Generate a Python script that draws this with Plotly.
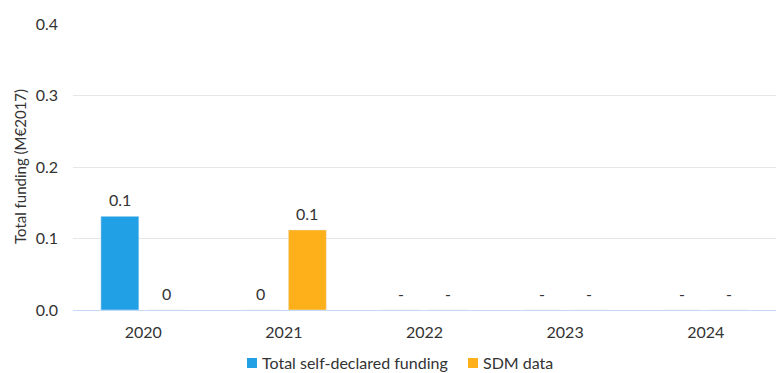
import plotly.graph_objects as go

years = ["2020", "2021", "2022", "2023", "2024"]
self_declared = [0.131, 0, 0, 0, 0]
self_declared_labels = ["0.1", "0", "-", "-", "-"]
sdm = [0, 0.112, 0, 0, 0]
sdm_labels = ["0", "0.1", "-", "-", "-"]
series_names = ["Total self-declared funding", "SDM data"]
series_colors = ["#22A0E6", "#FDB019"]

font_family = "Lato, 'Open Sans', sans-serif"
text_color = "#333333"
FS = 16

W, H = 776, 373
L, R, T, B = 73, 0, 24, 63
PW, PH = W - L - R, H - T - B


def px_x(px):
    return (px - L) / PW


def px_y(py):
    return (H - B - py) / PH


fig = go.Figure()
fig.add_trace(go.Bar(x=years, y=self_declared, name=series_names[0],
                     marker_color=series_colors[0], showlegend=False))
fig.add_trace(go.Bar(x=years, y=sdm, name=series_names[1],
                     marker_color=series_colors[1], showlegend=False))

# data labels, placed over each bar of the group (category index positions)
annotations = []
for labels, vals, shift in [(self_declared_labels, self_declared, -23.5),
                            (sdm_labels, sdm, 23.5)]:
    for i, (v, lab) in enumerate(zip(vals, labels)):
        annotations.append(dict(x=i, y=v, xref="x", yref="y", text=lab,
                                showarrow=False, yanchor="bottom", xshift=shift,
                                yshift=5, font=dict(size=FS, color=text_color)))
annotations.append(dict(x=px_x(20), xref="paper", y=0.5, yref="paper",
                        text="Total funding (M€2017)", textangle=-90, showarrow=False,
                        xanchor="center", yanchor="middle",
                        font=dict(size=15, color=text_color)))

# legend drawn manually (compact spacing like the reference)
shapes = []
legend_items = [(247, series_names[0], series_colors[0]),
                (468, series_names[1], series_colors[1])]
for x0, name, color in legend_items:
    shapes.append(dict(type="rect", xref="paper", yref="paper",
                       x0=px_x(x0), x1=px_x(x0 + 10), y0=px_y(368), y1=px_y(358),
                       fillcolor=color, line=dict(width=0)))
    annotations.append(dict(x=px_x(x0 + 13), y=px_y(362), xref="paper", yref="paper",
                            text=name, showarrow=False, xanchor="left", yanchor="middle",
                            font=dict(size=FS, color=text_color)))

fig.update_layout(
    width=W, height=H,
    margin=dict(l=L, r=R, t=T, b=B, autoexpand=False),
    paper_bgcolor="white", plot_bgcolor="white",
    barmode="group", bargap=0.333, bargroupgap=0.19,
    font=dict(family=font_family, size=FS, color=text_color),
    showlegend=False,
    xaxis=dict(type="category", range=[-0.5, 4.5], showgrid=False, showline=True,
               linecolor="#C5DAF6", linewidth=1, ticks="", tickfont=dict(size=FS),
               ticklabelstandoff=8),
    yaxis=dict(range=[0, 0.4], dtick=0.1, tickformat=".1f", showgrid=True,
               gridcolor="#E6E6E6", gridwidth=1, zeroline=False, showline=False,
               tickfont=dict(size=FS), ticklabelstandoff=14),
    annotations=annotations,
    shapes=shapes,
)

fig.write_html("out.html", config={"displayModeBar": False},
               post_script="document.body.style.margin='0';document.body.style.overflow='hidden';")
